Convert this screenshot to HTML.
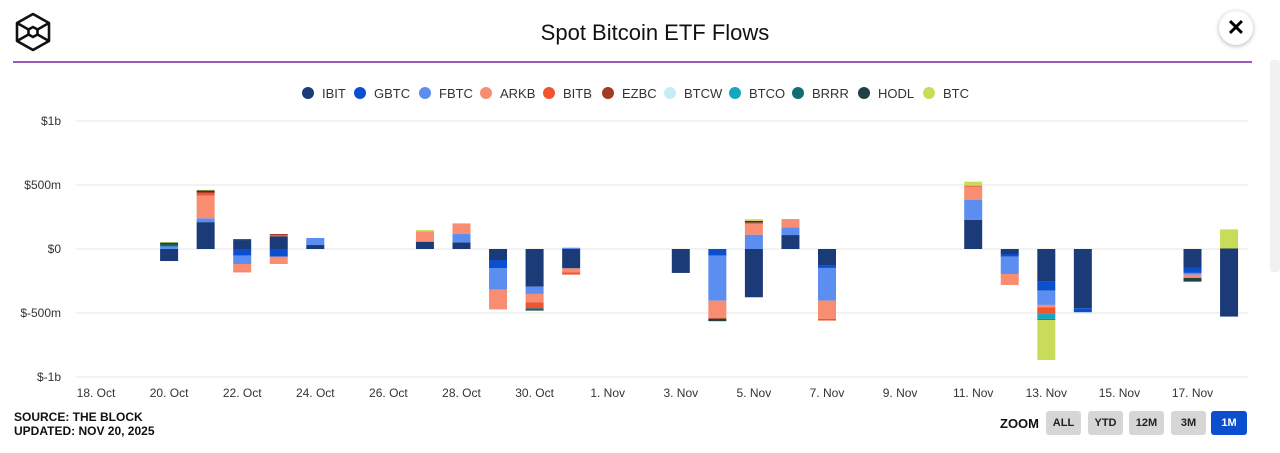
<!DOCTYPE html>
<html><head><meta charset="utf-8"><style>
body{margin:0;width:1280px;height:453px;background:#fff;font-family:"Liberation Sans",sans-serif;overflow:hidden;position:relative}
.abs{position:absolute}
.btn{position:absolute;top:411px;height:24px;width:35px;background:#d6d6d6;border-radius:3px;font:bold 11px "Liberation Sans",sans-serif;color:#222;text-align:center;line-height:24px}
</style></head><body>
<svg class="abs" style="left:13px;top:12px" width="40" height="40" viewBox="0 0 40 40">
<g fill="none" stroke="#111" stroke-width="2.6" stroke-linejoin="round">
<polygon points="20,2 36,11 36,29 20,38 4,29 4,11"/>
<polygon points="20,15 24.5,17.5 24.5,22.5 20,25 15.5,22.5 15.5,17.5"/>
<line x1="4" y1="11" x2="15.5" y2="17.5"/><line x1="36" y1="11" x2="24.5" y2="17.5"/>
<line x1="4" y1="29" x2="15.5" y2="22.5"/><line x1="36" y1="29" x2="24.5" y2="22.5"/>
</g></svg>
<div class="abs" style="left:0;width:1310px;top:20px;text-align:center;font-size:22px;color:#111">Spot Bitcoin ETF Flows</div>
<div class="abs" style="left:1219px;top:11px;width:34px;height:34px;border-radius:50%;background:#fff;box-shadow:0 1px 5px rgba(0,0,0,.3);text-align:center;line-height:34px;font-size:22px;font-weight:bold;color:#000">✕</div>
<div class="abs" style="left:13px;top:61px;width:1239px;height:2px;background:#9b59c0"></div>
<div class="abs" style="left:1270px;top:60px;width:10px;height:212px;background:#f1f1f1;border-radius:3px"></div>
<svg id="chart" class="abs" style="left:0;top:0" width="1280" height="453"></svg>
<div class="abs" style="left:14px;top:410px;font-size:12px;font-weight:bold;color:#111;line-height:14px">SOURCE: THE BLOCK<br>UPDATED: NOV 20, 2025</div>
<div class="abs" style="left:1000px;top:416px;font-size:13px;font-weight:bold;color:#111">ZOOM</div>
<div class="btn" style="left:1046px">ALL</div>
<div class="btn" style="left:1088px">YTD</div>
<div class="btn" style="left:1129px">12M</div>
<div class="btn" style="left:1171px">3M</div>
<div class="btn" style="left:1211px;width:36px;background:#0b4fcf;color:#fff">1M</div>
<script>
const days = [2,3,4,5,6,9,10,11,12,13,16,17,18,19,20,24,25,26,27,30,31];
const xTickLabels = ["18. Oct","20. Oct","22. Oct","24. Oct","26. Oct","28. Oct","30. Oct","1. Nov","3. Nov","5. Nov","7. Nov","9. Nov","11. Nov","13. Nov","15. Nov","17. Nov"];
const yTicks = [1000,500,0,-500,-1000];
const yTickLabels = ["$1b","$500m","$0","$-500m","$-1b"];
const seriesNames = ["IBIT","GBTC","FBTC","ARKB","BITB","EZBC","BTCW","BTCO","BRRR","HODL","BTC"];
const seriesColors = ["#1b3a78","#0b4fcf","#5b8ef0","#f98d72","#f25430","#a23a24","#c6ecf6","#15a6c0","#0f6e73","#223f45","#c8dc5a"];
const IBIT = [-94,210,70,99,31,57,52,-86,-294,-151,-187,0,-377,109,-130,227,-39,-255,-463,-148,-528];
const GBTC = [0,0,-52,-60,0,0,0,-65,0,0,0,-52,0,0,-18,0,-21,-70,-31,-39,0];
const FBTC = [20,30,-65,0,55,0,65,-167,-57,10,0,-352,112,60,-255,156,-135,-112,0,-13,0];
const ARKB = [0,177,-60,-57,0,81,83,-151,-65,-31,0,-135,88,65,-143,104,-86,-18,0,-26,0];
const BITB = [0,18,-5,10,0,0,0,0,-47,-18,0,-5,0,0,-13,8,0,-52,0,0,0];
const EZBC = [0,10,0,8,0,0,0,0,0,0,0,0,10,0,0,0,0,0,0,0,0];
const BTCW = [0,0,0,0,0,0,0,0,0,0,0,0,0,0,0,0,0,0,0,0,0];
const BTCO = [0,0,0,0,0,0,0,0,0,0,0,0,0,0,0,0,0,-39,0,0,0];
const BRRR = [15,0,8,0,0,0,0,0,-10,0,0,0,0,0,0,0,0,-4,0,0,0];
const HODL = [15,12,0,0,0,0,0,0,-8,0,0,-20,10,0,0,0,0,-4,0,-29,5];
const BTC = [5,5,0,0,0,10,0,-5,0,0,0,0,13,0,0,31,0,-313,0,0,148];
const series = [IBIT,GBTC,FBTC,ARKB,BITB,EZBC,BTCW,BTCO,BRRR,HODL,BTC];

const NS="http://www.w3.org/2000/svg";
const svg=document.getElementById('chart');
const xDay=d=>96+d*36.55;
const yVal=v=>249-v*0.128;
function mk(tag,attrs){const e=document.createElementNS(NS,tag);for(const k in attrs)e.setAttribute(k,attrs[k]);svg.appendChild(e);return e;}
yTicks.forEach((v,i)=>{
  const g=mk('line',{x1:76,x2:1248,y1:yVal(v),y2:yVal(v),stroke:'#e6e6e6','stroke-width':1});
  
  
  const t=mk('text',{x:61,y:yVal(v)+4,'text-anchor':'end','font-size':12,fill:'#333','font-family':'Liberation Sans, sans-serif'});
  t.textContent=yTickLabels[i];
  
  
});
xTickLabels.forEach((s,i)=>{
  const t=mk('text',{x:xDay(i*2),y:397,'text-anchor':'middle','font-size':12,fill:'#333','font-family':'Liberation Sans, sans-serif'});
  t.textContent=s;
  
  
});
days.forEach((d,i)=>{
  let pos=0,neg=0;
  series.forEach((s,k)=>{
    const v=s[i]; if(!v) return;
    let y0,y1;
    if(v>0){y0=pos;pos+=v;y1=pos;}else{y0=neg;neg+=v;y1=neg;}
    const top=Math.min(yVal(y0),yVal(y1)),h=Math.abs(yVal(y1)-yVal(y0));
    const r=mk('rect',{x:xDay(d)-9,y:top,width:18,height:h,fill:seriesColors[k]});
    
    
  });
});
const legX=[308,360,425,486,549,608,670,735,798,864,929];
seriesNames.forEach((n,k)=>{
  const c=mk('circle',{cx:legX[k],cy:93,r:6,fill:seriesColors[k]});
  
  
  const t=mk('text',{x:legX[k]+14,y:98,'font-size':13,fill:'#333','font-family':'Liberation Sans, sans-serif'});
  t.textContent=n;
  
  
});
</script>
</body></html>
